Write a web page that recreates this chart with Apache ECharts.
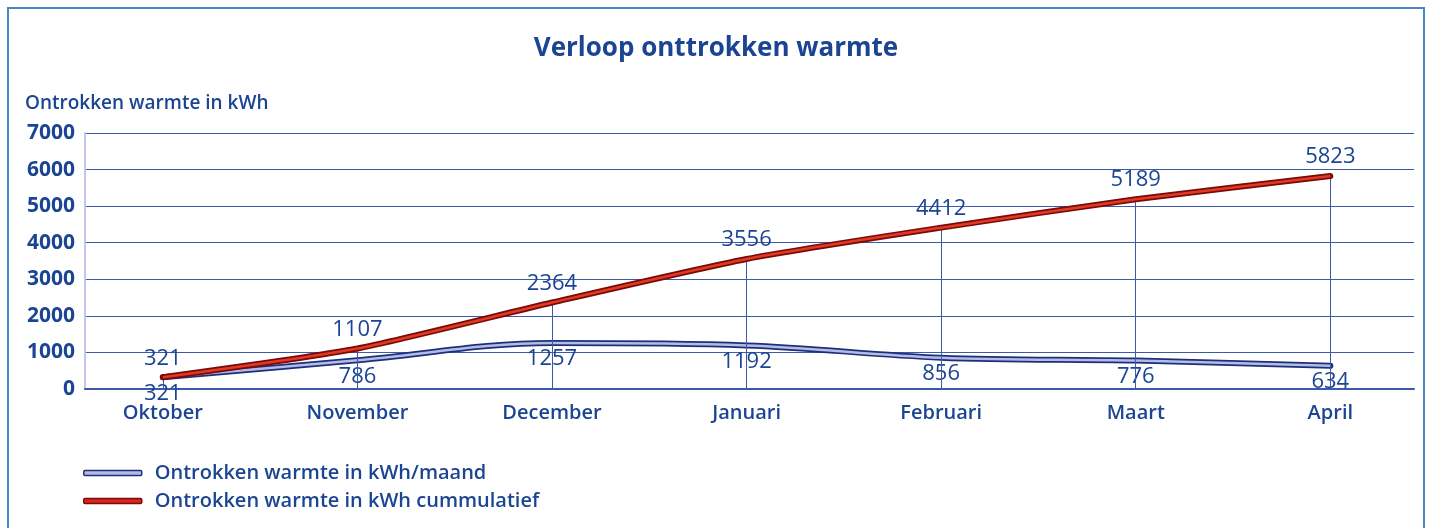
<!DOCTYPE html>
<html>
<head>
<meta charset="utf-8">
<script src="https://cdn.jsdelivr.net/npm/echarts@6/dist/echarts.min.js"></script>
<style>
    html, body {margin: 0; padding: 0; background: #fff;}
    #chart {width: 1432px; height: 528px;}
</style>
</head>
<body>
<div id="chart"></div>
<script>
var months = ['Oktober', 'November', 'December', 'Januari', 'Februari', 'Maart', 'April'];
var perMonth = [321, 786, 1257, 1192, 856, 776, 634];
var cumulative = [321, 1107, 2364, 3556, 4412, 5189, 5823];
var yTicks = [0, 1000, 2000, 3000, 4000, 5000, 6000, 7000];

var blue = '#1b4593';
var font = 'Open Sans';

var toPoints = function (arr) {
    return arr.map(function (v, i) { return [i, v]; });
};

var dropLines = cumulative.map(function (v, i) {
    return [{coord: [i, 0]}, {coord: [i, v]}];
});

var myChart = echarts.init(document.getElementById('chart'));
var option = {
    animation: false,
    textStyle: {fontFamily: font, color: blue},
    graphic: [
        {
            type: 'rect',
            shape: {x: 8, y: 8, width: 1416, height: 540},
            style: {fill: 'none', stroke: '#4a86c0', lineWidth: 2}
        }
    ],
    title: {
        text: 'Verloop onttrokken warmte',
        left: 'center',
        top: 31,
        textStyle: {fontFamily: font, fontSize: 26, fontWeight: 'bold', color: blue}
    },
    grid: {left: 85, right: 18, top: 133, bottom: 139},
    legend: {
        orient: 'vertical',
        left: 78,
        top: 458,
        itemGap: 8,
        itemWidth: 58,
        itemHeight: 5,
        textStyle: {fontFamily: font, fontSize: 20, fontWeight: 600, color: blue, padding: [0, 0, 0, 8]},
        data: [
            {name: 'Ontrokken warmte in kWh/maand', icon: 'roundRect',
                itemStyle: {color: '#b4bce6', borderColor: '#1e2f7a', borderWidth: 1.5, opacity: 1}},
            {name: 'Ontrokken warmte in kWh cummulatief', icon: 'roundRect',
                itemStyle: {color: '#d8261c', borderColor: '#7a0a0a', borderWidth: 1.5, opacity: 1}}
        ]
    },
    xAxis: {
        type: 'value',
        min: -0.4,
        max: 6.43,
        splitLine: {show: false},
        axisTick: {show: false},
        axisLine: {show: true, onZero: false, lineStyle: {color: '#3d5aa8', width: 2}},
        axisLabel: {
            customValues: [0, 1, 2, 3, 4, 5, 6],
            formatter: function (v) { return months[Math.round(v)]; },
            fontFamily: font,
            fontSize: 20,
            fontWeight: 600,
            color: blue,
            margin: 14
        }
    },
    yAxis: {
        type: 'value',
        name: 'Ontrokken warmte in kWh',
        nameLocation: 'end',
        nameGap: 20,
        nameTextStyle: {fontFamily: font, fontSize: 19, fontWeight: 600, color: blue, align: 'left', padding: [0, 0, 0, -60]},
        min: 0,
        max: 7000,
        interval: 1000,
        axisLine: {show: true, onZero: false, lineStyle: {color: '#c3c7ec', width: 2}},
        axisTick: {show: false},
        axisLabel: {
            fontFamily: font,
            fontSize: 21,
            fontWeight: 'bold',
            color: blue,
            margin: 10,
            formatter: function (v) { return yTicks.indexOf(v) >= 0 ? String(v) : ''; }
        },
        splitLine: {show: true, lineStyle: {color: '#3d5aa8', width: 1.2}}
    },
    series: [
        {
            name: 'Ontrokken warmte in kWh/maand',
            type: 'line',
            smooth: 0.35,
            symbol: 'circle',
            symbolSize: 2,
            showSymbol: true,
            itemStyle: {color: 'rgba(0,0,0,0)'},
            data: toPoints(perMonth),
            lineStyle: {color: '#1e2f7a', width: 6, cap: 'round'},
            label: {
                show: true,
                position: 'bottom',
                distance: 4,
                fontFamily: font,
                fontSize: 22,
                color: blue,
                formatter: function (p) { return p.value[1]; }
            },
            z: 3
        },
        {
            name: 'maand-inner',
            type: 'line',
            smooth: 0.35,
            symbol: 'none',
            silent: true,
            data: toPoints(perMonth),
            lineStyle: {color: '#b4bce6', width: 2.5},
            z: 4
        },
        {
            name: 'Ontrokken warmte in kWh cummulatief',
            type: 'line',
            smooth: 0.2,
            symbol: 'circle',
            symbolSize: 2,
            showSymbol: true,
            itemStyle: {color: 'rgba(0,0,0,0)'},
            data: toPoints(cumulative),
            lineStyle: {color: '#7a0a0a', width: 6, cap: 'round'},
            label: {
                show: true,
                position: 'top',
                distance: 7,
                fontFamily: font,
                fontSize: 22,
                color: blue,
                formatter: function (p) { return p.value[1]; }
            },
            markLine: {
                silent: true,
                symbol: 'none',
                label: {show: false},
                lineStyle: {color: '#3d5aa8', width: 1, type: 'solid'},
                data: dropLines
            },
            z: 5
        },
        {
            name: 'cummulatief-inner',
            type: 'line',
            smooth: 0.2,
            symbol: 'none',
            silent: true,
            data: toPoints(cumulative),
            lineStyle: {color: '#e03a22', width: 2.5},
            z: 6
        }
    ]
};
myChart.setOption(option);
</script>
</body>
</html>
